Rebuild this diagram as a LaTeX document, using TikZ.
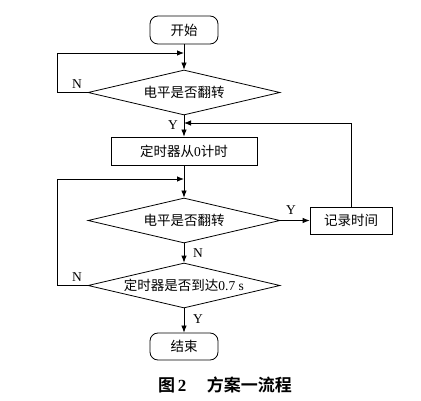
\documentclass[tikz,border=0pt]{standalone}
\usepackage{fontspec}
\setmainfont{Liberation Serif}
\newfontfamily\cjk{Noto Sans CJK SC}
\newfontfamily\cjkb{Noto Sans CJK SC Bold}
\usetikzlibrary{shapes.geometric,arrows.meta}
\begin{document}
\begin{tikzpicture}[x=1pt,y=-1pt,line width=0.8pt,
  every node/.style={font=\fontsize{13.5}{15}\selectfont},
  term/.style={draw,rounded corners=8pt,minimum width=68pt,minimum height=28pt,inner sep=0pt},
  proc/.style={draw,minimum height=28pt,inner sep=0pt},
  dec/.style={draw,diamond,aspect=4.27,minimum width=192pt,minimum height=45pt,inner sep=0pt},
  arr/.style={-{Latex[length=7pt,width=5.5pt]}},
  lbl/.style={inner sep=0pt}]
\useasboundingbox (0,0) rectangle (421,401);
\node[term] (start) at (184,30) {\cjk 开始};
\node[dec] (d1) at (184,92.5) {\cjk 电平是否翻转};
\node[proc,minimum width=146pt] (b1) at (184,151) {{\cjk 定时器从}0{\cjk 计时}};
\node[dec] (d2) at (184,220.5) {\cjk 电平是否翻转};
\node[proc,minimum width=82pt,minimum height=27pt] (rec) at (351,220.5) {\cjk 记录时间};
\node[dec] (d3) at (184,285.5) {{\cjk 定时器是否到达}0.7 s};
\node[term,minimum height=27pt] (end) at (184,346.5) {\cjk 结束};
\coordinate (j1) at (184,53);
\coordinate (j2) at (184,123);
\coordinate (j3) at (184,179);
\coordinate (l1) at (57,92.5);
\coordinate (l3) at (57,285.5);
\draw[arr] (start) -- (d1);
\draw[arr] (d1.west) -- (l1) |- (j1);
\draw[arr] (d1) -- (b1);
\draw[arr] (rec.north) |- (j2);
\draw[arr] (b1) -- (d2);
\draw[arr] (d2) -- (rec);
\draw[arr] (d2) -- (d3);
\draw[arr] (d3.west) -- (l3) |- (j3);
\draw[arr] (d3) -- (end);
\node[lbl] (n1) at (77,84) {N};
\node[lbl] (y1) at (173,125) {Y};
\node[lbl] (y2) at (291,210) {Y};
\node[lbl] (n2) at (198,253) {N};
\node[lbl] (n3) at (77,277) {N};
\node[lbl] (y3) at (198,319) {Y};
\node[lbl,font=\fontsize{17}{19}\selectfont] (cap) at (225,385) {{\cjkb 图}\,{\bfseries 2}\hspace{1.2em}{\cjkb 方案一流程}};
\end{tikzpicture}
\end{document}
